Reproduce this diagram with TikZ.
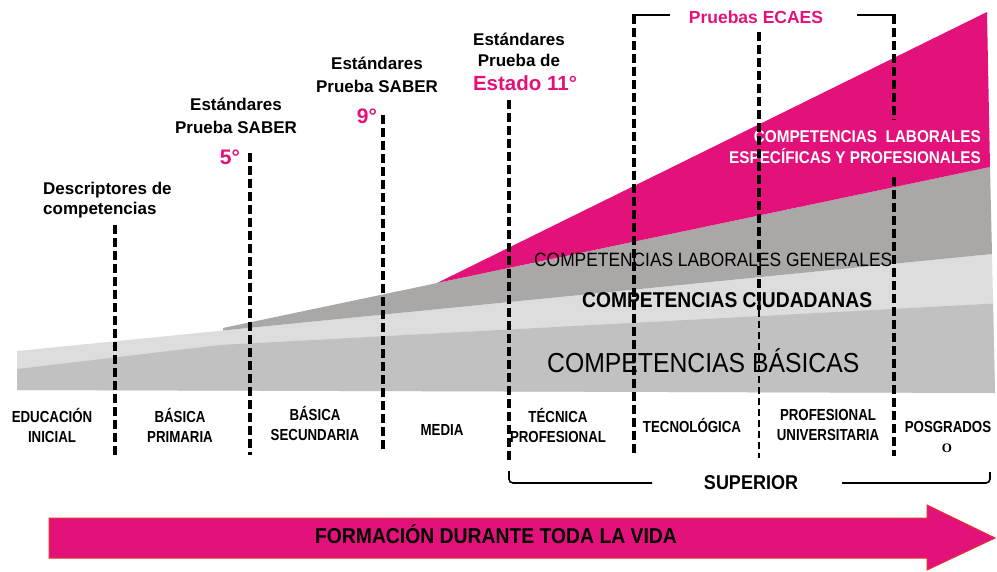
\documentclass[tikz,border=0pt]{standalone}
\usepackage{fontspec}
\setmainfont{Liberation Sans}
\newfontfamily\nreg[FakeStretch=0.9]{Liberation Sans}
\newfontfamily\nnar[FakeStretch=0.83]{Liberation Sans}
\newfontfamily\serifO{Liberation Serif}
\newcommand{\mlines}[1]{\begin{tabular}[t]{@{}c@{}}#1\end{tabular}}
\newcommand{\mlinesl}[1]{\begin{tabular}[t]{@{}l@{}}#1\end{tabular}}
\newcommand{\mlinesr}[1]{\begin{tabular}[t]{@{}r@{}}#1\end{tabular}}
\definecolor{pinkc}{HTML}{E2127A}
\definecolor{grayband}{HTML}{A9A8A6}
\definecolor{lightband}{HTML}{DDDDDD}
\definecolor{basicband}{HTML}{C1C1C1}
\definecolor{redline}{HTML}{E5332A}
\begin{document}
\begin{tikzpicture}[x=1pt,y=-1pt,
  dl/.style={line width=3.2pt, dash pattern=on 9pt off 4pt},
  thindl/.style={line width=1.2pt, dash pattern=on 7pt off 4pt},
  txt/.style={inner sep=0pt, anchor=base},
  toplbl/.style={txt, font=\fontsize{17}{23}\selectfont\bfseries},
  numlbl/.style={txt, text=pinkc, font=\fontsize{21}{24}\selectfont\bfseries},
  botlbl/.style={txt, font=\nnar\fontsize{16}{20}\selectfont\bfseries},
  brk/.style={line width=2.8pt}]
\useasboundingbox (0,0) rectangle (997,571);

% bands
\fill[lightband] (17,351) -- (992,254) -- (995,393) -- (17,390) -- cycle;
\fill[basicband] (17,369) -- (220,345) -- (993,303.6) -- (995,393) -- (17,390) -- cycle;
\fill[grayband] (223,328) -- (990,167) -- (992,254) -- (223,330.5) -- cycle;
\fill[pinkc] (437,283) -- (987,12) -- (990,167) -- cycle;

% band texts
\node[txt, anchor=base west, font=\nreg\fontsize{19.3}{22}\selectfont] (labgen) at (534,266) {COMPETENCIAS LABORALES GENERALES};
\node[txt, anchor=base west, font=\nreg\fontsize{21.4}{24}\selectfont\bfseries] (ciud) at (582,307) {COMPETENCIAS CIUDADANAS};
\node[txt, anchor=base west, font=\nreg\fontsize{27.5}{30}\selectfont] (basicas) at (547,372) {COMPETENCIAS BÁSICAS};
\node[txt, anchor=base east, text=white, font=\nreg\fontsize{17}{21}\selectfont\bfseries] (labesp) at (981,142) {\mlinesr{COMPETENCIAS\ \ LABORALES\\ESPECÍFICAS Y PROFESIONALES}};

% dashed dividers
\draw[dl] (115,225) -- (115,457);
\draw[dl] (250,153) -- (250,455);
\draw[dl] (383,115) -- (383,452);
\draw[dl] (509,100) -- (509,460);
\draw[dl] (634,15) -- (634,456);
\draw[dl] (759,32) -- (759,310);
\draw[thindl] (759,310) -- (759,458);
\draw[dl] (894,15) -- (894,120);
\draw[dl] (894,177) -- (894,456);

% ECAES bracket
\draw[brk] (632.4,15) -- (670,15);
\draw[brk] (857,15) -- (895.6,15);
\node[txt, text=pinkc, font=\fontsize{17.5}{20}\selectfont\bfseries] (ecaes) at (756,23) {Pruebas ECAES};

% top labels
\node[toplbl, anchor=base west, font=\fontsize{17}{20}\selectfont\bfseries] (desc) at (43,194) {\mlinesl{Descriptores de\\competencias}};
\node[toplbl] (e5) at (236,110) {\mlines{Estándares\\Prueba SABER}};
\node[numlbl] (n5) at (230,164) {5°};
\node[toplbl] (e9) at (377,69) {\mlines{Estándares\\Prueba SABER}};
\node[numlbl] (n9) at (367,123) {9°};
\node[toplbl, font=\fontsize{17}{21}\selectfont\bfseries] (e11) at (519,45) {\mlines{Estándares\\Prueba de}};
\node[numlbl, font=\fontsize{20.5}{24}\selectfont\bfseries] (n11) at (525,90) {Estado 11°};

% bottom labels
\node[botlbl] (edu) at (52,422) {\mlines{EDUCACIÓN\\INICIAL}};
\node[botlbl] (prim) at (180,422) {\mlines{BÁSICA\\PRIMARIA}};
\node[botlbl] (sec) at (315,420) {\mlines{BÁSICA\\SECUNDARIA}};
\node[botlbl] (media) at (442,435) {MEDIA};
\node[botlbl] (tec) at (558,422) {\mlines{TÉCNICA\\PROFESIONAL}};
\node[botlbl] (tecno) at (692,432) {TECNOLÓGICA};
\node[botlbl] (prof) at (828,420) {\mlines{PROFESIONAL\\UNIVERSITARIA}};
\node[botlbl] (posg) at (948,432) {POSGRADOS};
\node[txt, font=\serifO\fontsize{13}{15}\selectfont\bfseries] (posgo) at (947,452) {O};

% SUPERIOR bracket
\draw[line width=1.6pt, rounded corners=4pt] (509,471) -- (509,483) -- (652,483);
\draw[line width=1.6pt, rounded corners=4pt] (842,483) -- (990,483) -- (990,472);
\node[txt, font=\nreg\fontsize{20}{22}\selectfont\bfseries] (sup) at (751,489) {SUPERIOR};

% big arrow
\draw[fill=pinkc, draw=redline, line width=1pt]
  (49,518) -- (927,518) -- (927,505) -- (995,538) -- (927,570) -- (927,558) -- (49,558) -- cycle;
\node[txt, font=\nreg\fontsize{21.5}{24}\selectfont\bfseries] (vida) at (496,543) {FORMACIÓN DURANTE TODA LA VIDA};
\end{tikzpicture}
\end{document}
